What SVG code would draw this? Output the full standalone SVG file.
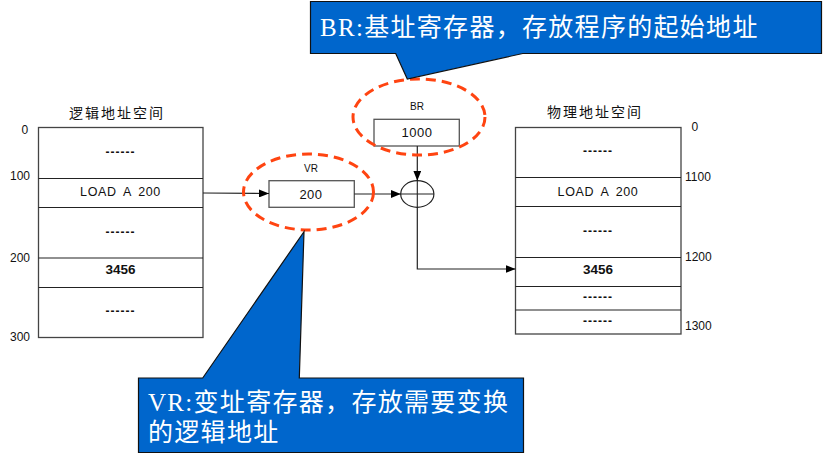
<svg xmlns="http://www.w3.org/2000/svg" width="827" height="464" viewBox="0 0 827 464">
<style>
.blk{fill:#fff;stroke:#444;stroke-width:1.3}
.row{stroke:#222;stroke-width:1.2}
.t{font-family:"Liberation Sans",Arial,sans-serif;fill:#111}
.dash{font-family:"Liberation Sans",Arial,sans-serif;font-weight:bold;font-size:12px;letter-spacing:1px;text-anchor:middle;fill:#111}
.num{font-family:"Liberation Sans",Arial,sans-serif;font-weight:bold;font-size:13.5px;text-anchor:middle;fill:#111}
.load{font-family:"Liberation Sans",Arial,sans-serif;font-size:12.5px;letter-spacing:0.6px;word-spacing:3px;text-anchor:middle;fill:#111}
.tick{font-family:"Liberation Sans",Arial,sans-serif;font-size:12px;fill:#111}
.title{font-family:"Noto Sans CJK SC",sans-serif;font-size:14px;letter-spacing:2px;text-anchor:middle;fill:#111}
.reg{fill:#fff;stroke:#555;stroke-width:1.3}
.oval{fill:none;stroke:#FF4411;stroke-width:3;stroke-dasharray:10 6}
.con{fill:none;stroke:#222;stroke-width:1.2}
.call{fill:#0066CC;stroke:#111;stroke-width:1.2}
.ct{font-family:"Liberation Serif","Noto Sans CJK SC",serif;font-size:25px;letter-spacing:1.3px;fill:#fff}
</style>
<defs>
<marker id="ah" viewBox="0 0 10 8" refX="10" refY="4" markerWidth="10" markerHeight="8" markerUnits="userSpaceOnUse" orient="auto">
<path d="M0,0 L10,4 L0,8 Z" fill="#000"/>
</marker>
</defs>

<g id="logical-space">
<text class="title" x="117" y="118">逻辑地址空间</text>
<rect class="blk" x="38.5" y="127.5" width="164.5" height="210"/>
<line class="row" x1="38.5" y1="178.5" x2="203" y2="178.5"/>
<line class="row" x1="38.5" y1="207.5" x2="203" y2="207.5"/>
<line class="row" x1="38.5" y1="258" x2="203" y2="258"/>
<line class="row" x1="38.5" y1="287.5" x2="203" y2="287.5"/>
<text class="dash" x="120.5" y="156">------</text>
<text class="load" x="120.5" y="196">LOAD A 200</text>
<text class="dash" x="120.5" y="236">------</text>
<text class="num" x="120.5" y="274">3456</text>
<text class="dash" x="120.5" y="315">------</text>
<text class="tick" x="21.5" y="134">0</text>
<text class="tick" x="10" y="180">100</text>
<text class="tick" x="10" y="262">200</text>
<text class="tick" x="10" y="341">300</text>
</g>

<g id="physical-space">
<text class="title" x="595" y="117">物理地址空间</text>
<rect class="blk" x="515.5" y="127.5" width="165.5" height="206.5"/>
<line class="row" x1="515.5" y1="177.5" x2="681" y2="177.5"/>
<line class="row" x1="515.5" y1="206.5" x2="681" y2="206.5"/>
<line class="row" x1="515.5" y1="257.5" x2="681" y2="257.5"/>
<line class="row" x1="515.5" y1="286.5" x2="681" y2="286.5"/>
<line class="row" x1="515.5" y1="310" x2="681" y2="310"/>
<text class="dash" x="598" y="155">------</text>
<text class="load" x="598" y="196">LOAD A 200</text>
<text class="dash" x="598" y="235">------</text>
<text class="num" x="598" y="274">3456</text>
<text class="dash" x="598" y="301">------</text>
<text class="dash" x="598" y="325">------</text>
<text class="tick" x="691.5" y="131">0</text>
<text class="tick" x="685" y="181">1100</text>
<text class="tick" x="685" y="261">1200</text>
<text class="tick" x="685" y="330">1300</text>
</g>

<g id="vr-register">
<text class="t" x="311" y="172" font-size="10" text-anchor="middle">VR</text>
<rect class="reg" x="269" y="180.7" width="85.3" height="26.6"/>
<text class="t" x="311" y="198.5" font-size="13" letter-spacing="0.5" text-anchor="middle">200</text>
</g>

<g id="br-register">
<text class="t" x="417" y="110" font-size="10" text-anchor="middle">BR</text>
<rect class="reg" x="374" y="119.3" width="85.3" height="26.7"/>
<text class="t" x="417" y="137" font-size="13" letter-spacing="0.5" text-anchor="middle">1000</text>
</g>

<g id="adder">
<ellipse cx="417.3" cy="194" rx="16.6" ry="13.3" fill="#fff" stroke="#222" stroke-width="1.2"/>
<line x1="400.7" y1="194" x2="434" y2="194" stroke="#222" stroke-width="1.1"/>
<line x1="417.3" y1="180.7" x2="417.3" y2="207.3" stroke="#222" stroke-width="1.1"/>
</g>

<g id="connectors">
<line class="con" x1="203" y1="193" x2="269" y2="193.5" marker-end="url(#ah)"/>
<line class="con" x1="354.3" y1="194" x2="400.7" y2="194" marker-end="url(#ah)"/>
<line class="con" x1="417.3" y1="146" x2="417.3" y2="180.7" marker-end="url(#ah)"/>
<polyline class="con" points="417.3,207.3 417.3,269 515.5,269" marker-end="url(#ah)"/>
</g>

<g id="highlights">
<ellipse class="oval" cx="308.5" cy="192" rx="65" ry="38"/>
<ellipse class="oval" cx="419" cy="117" rx="66" ry="38"/>
</g>

<g id="br-callout">
<path class="call" d="M310.5,1.5 H821.5 V53.5 H522.7 L407.3,79 L395.7,53.5 H310.5 Z"/>
<text class="ct" x="320" y="36">BR:基址寄存器，存放程序的起始地址</text>
</g>

<g id="vr-callout">
<path class="call" d="M138.5,378 H202.7 L304,231.7 L299.3,378 H523.5 V452.5 H138.5 Z"/>
<text class="ct" x="148" y="411">VR:变址寄存器，存放需要变换</text>
<text class="ct" x="148" y="441">的逻辑地址</text>
</g>
</svg>
